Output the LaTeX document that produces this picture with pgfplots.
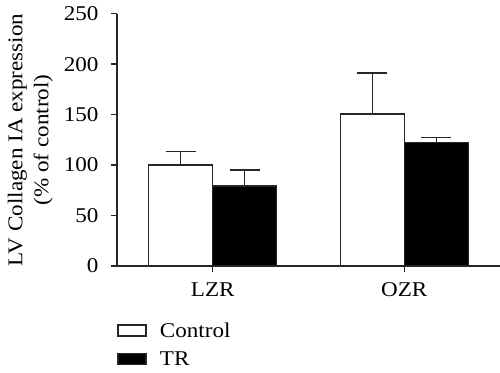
\documentclass[border=0pt]{standalone}
\usepackage{fontspec}
\setmainfont[FakeStretch=1.1]{Liberation Serif}
\usepackage{pgfplots}
\pgfplotsset{compat=1.18}
\definecolor{ln}{HTML}{262626}
\begin{document}
\begin{tikzpicture}
\useasboundingbox (-117bp,-107bp) rectangle (383bp,266bp);
\begin{axis}[
  at={(0,0)}, anchor=south west,
  scale only axis, width=383bp, height=252.3bp,
  xmin=-0.5, xmax=1.5, ymin=0, ymax=250,
  axis x line*=bottom, axis y line*=left,
  axis line style={-, line width=1.4bp, color=ln},
  ytick={0,50,100,150,200,250},
  xtick={0,1}, xticklabels={LZR,OZR},
  tick align=outside, major tick length=6bp,
  tick style={line width=1.4bp, color=ln},
  font=\fontsize{21bp}{24bp}\selectfont,
  tick label style={font=\fontsize{21bp}{24bp}\selectfont},
  yticklabel style={xshift=-9bp},
  xticklabel style={yshift=-7bp},
  /pgf/number format/assume math mode=true,
  ylabel={LV Collagen IA expression\\(\% of control)},
  ylabel style={align=center, at={(axis description cs:-0.158,0.5)}, anchor=south, font=\fontsize{21bp}{26bp}\selectfont},
  ybar, bar width=64bp,
  legend style={at={(axis description cs:0,-0.215)}, anchor=north west, draw=none, fill=none,
    font=\fontsize{21bp}{24bp}\selectfont, row sep=9bp, inner sep=0pt, cells={anchor=west}},
  legend image code/.code={\draw[#1, line width=1.4bp] (0bp,-5.5bp) rectangle (28bp,5.5bp); \path[draw=none, fill=none] (0bp,0bp) -- (40bp,0bp);},
  legend cell align=left,
]
\addplot[draw=ln, fill=white, line width=1.4bp, bar shift=-32bp,
  error bars/.cd, y dir=plus, y explicit,
  error bar style={line width=1.4bp, color=ln},
  error mark options={rotate=90, mark size=15bp, line width=1.4bp, color=ln}]
  coordinates {(0,100) +- (0,13.3) (1,150.6) +- (0,40.7)};
\addplot[draw=ln, fill=black, line width=1.4bp, bar shift=32bp,
  error bars/.cd, y dir=plus, y explicit,
  error bar style={line width=1.4bp, color=ln},
  error mark options={rotate=90, mark size=15bp, line width=1.4bp, color=ln}]
  coordinates {(0,79.3) +- (0,15.8) (1,122.2) +- (0,5.0)};
\legend{Control,TR}
\end{axis}
\end{tikzpicture}
\end{document}
